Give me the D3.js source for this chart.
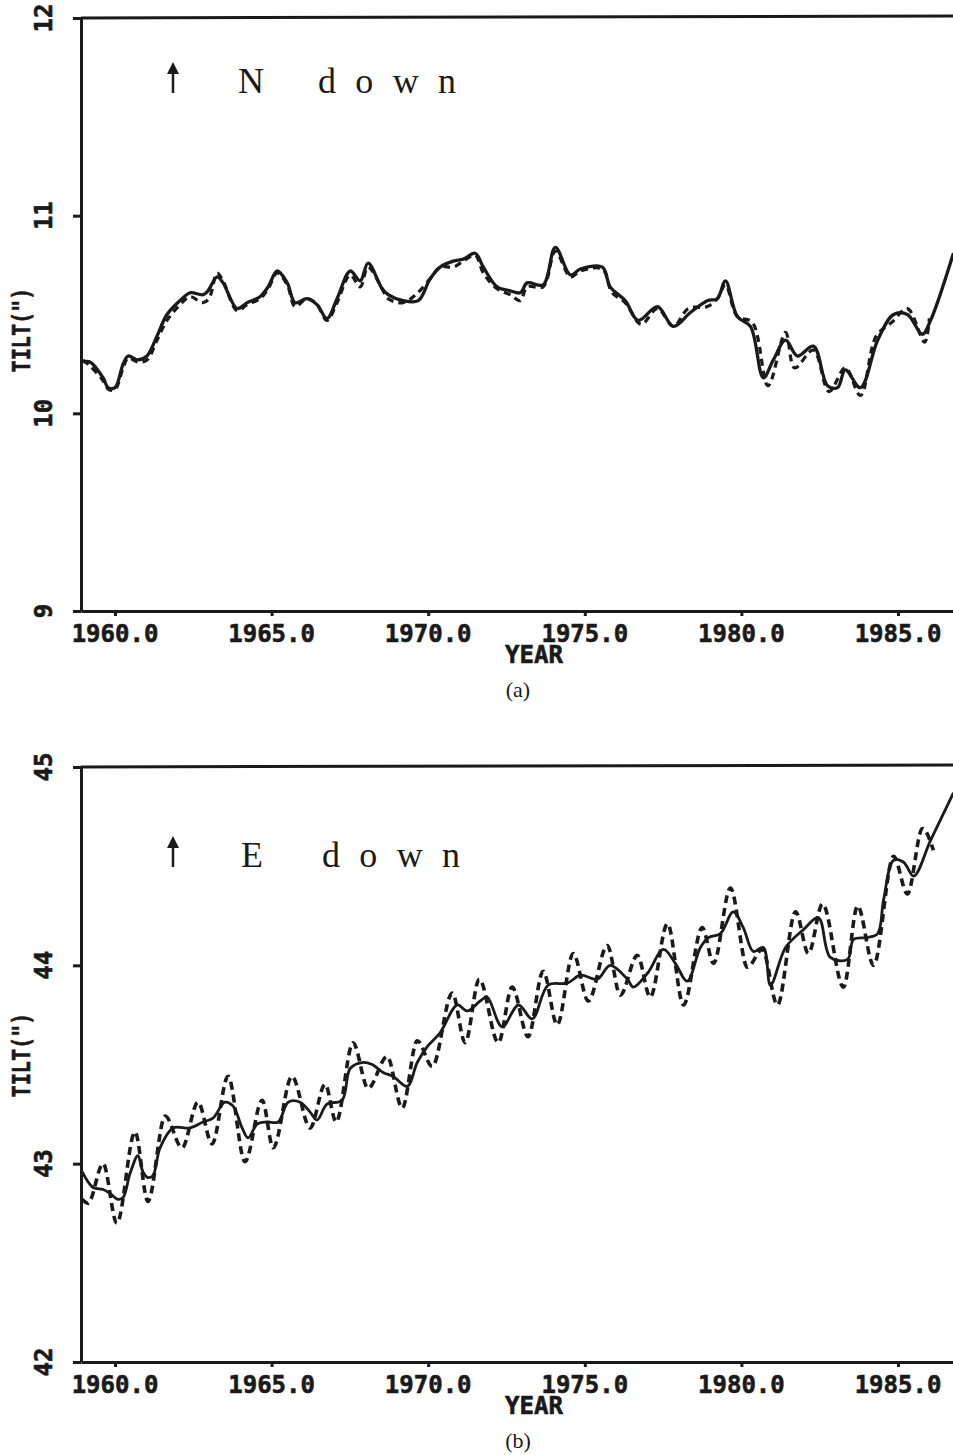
<!DOCTYPE html>
<html>
<head>
<meta charset="utf-8">
<script src="https://cdn.jsdelivr.net/npm/d3@7"></script>
<style>
  body { margin: 0; background: #fff; }
  svg { display: block; }
  .tick-label { font-family: "DejaVu Sans Mono", monospace; font-weight: bold; font-size: 24px; fill: #1a1a1a; stroke: #1a1a1a; stroke-width: 0.6px; }
  .note { font-family: "Liberation Serif", "DejaVu Serif", serif; font-size: 36px; fill: #1a1a1a; }
  .tag { font-family: "Liberation Serif", serif; font-size: 22px; fill: #1a1a1a; }
</style>
</head>
<body>
<div id="chart"></div>
<script>
// tick values
var xTicks = [1960, 1965, 1970, 1975, 1980, 1985];
var yTicksA = [9, 10, 11, 12];
var yTicksB = [42, 43, 44, 45];

// (a) N down: [year, tilt]
var solidA = [
  [1958.98, 10.26], [1959.20, 10.26], [1959.62, 10.18], [1959.78, 10.13], [1960.00, 10.13],
  [1960.26, 10.25], [1960.42, 10.29], [1960.73, 10.27], [1961.02, 10.29], [1961.34, 10.39],
  [1961.66, 10.50], [1962.14, 10.58], [1962.40, 10.61], [1962.81, 10.60], [1962.97, 10.62],
  [1963.26, 10.69], [1963.45, 10.66], [1963.90, 10.53], [1964.22, 10.56], [1964.63, 10.59],
  [1964.89, 10.64], [1965.18, 10.72], [1965.50, 10.66], [1965.75, 10.56], [1966.13, 10.58],
  [1966.45, 10.55], [1966.77, 10.48], [1967.09, 10.58], [1967.51, 10.72], [1967.83, 10.67],
  [1968.08, 10.76], [1968.53, 10.63], [1968.72, 10.60], [1969.20, 10.57], [1969.68, 10.57],
  [1970.06, 10.68], [1970.38, 10.74], [1970.80, 10.77], [1971.12, 10.78], [1971.50, 10.81],
  [1971.76, 10.74], [1972.20, 10.64], [1972.62, 10.62], [1972.94, 10.61], [1973.16, 10.66],
  [1973.67, 10.65], [1974.06, 10.84], [1974.54, 10.70], [1974.86, 10.73], [1975.56, 10.74],
  [1975.81, 10.64], [1976.29, 10.57], [1976.71, 10.47], [1977.32, 10.54], [1977.83, 10.44],
  [1978.37, 10.51], [1978.91, 10.57], [1979.23, 10.58], [1979.49, 10.67], [1979.87, 10.49],
  [1980.29, 10.44], [1980.70, 10.18], [1981.02, 10.27], [1981.41, 10.37], [1981.79, 10.29],
  [1982.30, 10.34], [1982.75, 10.14], [1983.07, 10.13], [1983.32, 10.22], [1983.80, 10.13],
  [1984.35, 10.37], [1984.86, 10.50], [1985.30, 10.50], [1985.78, 10.40], [1986.04, 10.47],
  [1986.77, 10.81]
];
var dashedA = [
  [1958.98, 10.27], [1959.20, 10.24], [1959.60, 10.17], [1959.80, 10.12], [1960.00, 10.12],
  [1960.26, 10.23], [1960.42, 10.28], [1960.73, 10.26], [1961.02, 10.27], [1961.34, 10.37],
  [1961.66, 10.47], [1962.14, 10.56], [1962.40, 10.59], [1962.80, 10.56], [1963.00, 10.58],
  [1963.26, 10.71], [1963.45, 10.67], [1963.90, 10.52], [1964.22, 10.55], [1964.63, 10.58],
  [1964.89, 10.63], [1965.18, 10.71], [1965.50, 10.65], [1965.75, 10.54], [1966.13, 10.58],
  [1966.45, 10.55], [1966.77, 10.47], [1967.09, 10.56], [1967.51, 10.70], [1967.83, 10.64],
  [1968.08, 10.74], [1968.53, 10.63], [1968.72, 10.58], [1969.20, 10.56], [1969.60, 10.60],
  [1970.06, 10.68], [1970.38, 10.74], [1970.80, 10.74], [1971.12, 10.77], [1971.50, 10.80],
  [1971.76, 10.71], [1972.20, 10.63], [1972.62, 10.60], [1972.94, 10.57], [1973.16, 10.64],
  [1973.67, 10.64], [1974.06, 10.82], [1974.54, 10.69], [1974.86, 10.72], [1975.56, 10.73],
  [1975.87, 10.61], [1976.29, 10.56], [1976.80, 10.45], [1977.32, 10.53], [1977.83, 10.44],
  [1978.30, 10.53], [1978.91, 10.54], [1979.23, 10.58], [1979.49, 10.65], [1979.87, 10.49],
  [1980.35, 10.46], [1980.85, 10.14], [1981.41, 10.41], [1981.70, 10.23], [1982.30, 10.32],
  [1982.80, 10.11], [1983.32, 10.23], [1983.80, 10.09], [1984.30, 10.39], [1984.80, 10.46],
  [1985.30, 10.53], [1985.85, 10.36], [1986.00, 10.48]
];

// (b) E down: [year, tilt]
var solidB = [
  [1958.95, 42.96], [1959.30, 42.88], [1959.62, 42.87], [1959.84, 42.85], [1960.10, 42.82],
  [1960.26, 42.83], [1960.48, 42.95], [1960.73, 43.04], [1960.89, 42.96], [1961.05, 42.93],
  [1961.21, 42.94], [1961.44, 43.08], [1961.85, 43.18], [1962.40, 43.18], [1962.81, 43.21],
  [1963.13, 43.23], [1963.51, 43.31], [1963.77, 43.29], [1964.06, 43.18], [1964.25, 43.13],
  [1964.54, 43.20], [1964.86, 43.21], [1965.21, 43.21], [1965.53, 43.31], [1965.91, 43.31],
  [1966.23, 43.26], [1966.45, 43.22], [1966.77, 43.30], [1967.25, 43.32], [1967.51, 43.48],
  [1967.89, 43.51], [1968.21, 43.50], [1968.56, 43.46], [1968.88, 43.44], [1969.33, 43.39],
  [1969.65, 43.51], [1969.97, 43.59], [1970.38, 43.66], [1970.93, 43.80], [1971.25, 43.77],
  [1971.66, 43.82], [1971.88, 43.84], [1972.36, 43.69], [1972.88, 43.80], [1973.32, 43.73],
  [1973.83, 43.90], [1974.44, 43.91], [1974.86, 43.95], [1975.40, 43.93], [1975.81, 44.00],
  [1976.36, 43.93], [1976.55, 43.89], [1977.00, 43.96], [1977.51, 44.08], [1977.89, 44.01],
  [1978.27, 43.92], [1978.69, 44.09], [1978.95, 44.14], [1979.33, 44.16], [1979.74, 44.27],
  [1980.06, 44.19], [1980.38, 44.07], [1980.70, 44.09], [1980.93, 43.90], [1981.41, 44.09],
  [1981.98, 44.18], [1982.46, 44.24], [1982.84, 44.04], [1983.39, 44.03], [1983.58, 44.13],
  [1984.03, 44.14], [1984.35, 44.16], [1984.54, 44.33], [1984.86, 44.53], [1985.18, 44.52],
  [1985.50, 44.45], [1986.04, 44.63], [1986.77, 44.87]
];
var dashedB = [
  [1958.95, 42.82], [1959.14, 42.80], [1959.62, 43.00], [1960.06, 42.70], [1960.64, 43.16],
  [1961.05, 42.81], [1961.60, 43.24], [1962.14, 43.08], [1962.65, 43.31], [1963.10, 43.10],
  [1963.61, 43.44], [1964.15, 43.01], [1964.70, 43.32], [1965.05, 43.08], [1965.65, 43.44],
  [1966.23, 43.18], [1966.71, 43.40], [1967.06, 43.21], [1967.60, 43.61], [1968.08, 43.38],
  [1968.69, 43.54], [1969.17, 43.28], [1969.65, 43.62], [1970.13, 43.49], [1970.77, 43.86],
  [1971.18, 43.61], [1971.63, 43.93], [1972.24, 43.61], [1972.68, 43.89], [1973.19, 43.64],
  [1973.67, 43.97], [1974.12, 43.70], [1974.63, 44.06], [1975.11, 43.82], [1975.72, 44.10],
  [1976.13, 43.85], [1976.68, 44.05], [1977.09, 43.84], [1977.64, 44.21], [1978.15, 43.80],
  [1978.75, 44.19], [1979.11, 44.01], [1979.65, 44.39], [1980.19, 43.99], [1980.67, 44.08],
  [1981.15, 43.80], [1981.73, 44.27], [1982.14, 44.06], [1982.59, 44.31], [1983.26, 43.89],
  [1983.71, 44.30], [1984.22, 44.00], [1984.86, 44.55], [1985.30, 44.36], [1985.78, 44.69],
  [1986.13, 44.58]
];

var W = 953, H = 1455;
var svg = d3.select("#chart").append("svg")
    .attr("width", W)
    .attr("height", H);

var panels = [
  { id: "a", solid: solidA, dashed: dashedA, yTicks: yTicksA, top: 18, bottom: 611,
    letter: "N", noteY: 93, tagY: 697, tiltY: 330, dashedCurve: d3.curveCatmullRom,
    solidW: 3.3, dashedW: 3.2, dash: "7,5" },
  { id: "b", solid: solidB, dashed: dashedB, yTicks: yTicksB, top: 767, bottom: 1362,
    letter: "E", noteY: 867, tagY: 1448, tiltY: 1055, dashedCurve: d3.curveMonotoneX,
    solidW: 2.8, dashedW: 3.6, dash: "8,5" }
];

var left = 81;
// 1960 sits at x=115, 1985 at x=898
var xRef = d3.scaleLinear().domain([1960, 1985]).range([115, 898]);

panels.forEach(function(p) {
  var x = d3.scaleLinear().domain([xRef.invert(left), xRef.invert(W + 5)]).range([left, W + 5]);
  var y = d3.scaleLinear().domain(d3.extent(p.yTicks)).range([p.bottom, p.top]);

  var g = svg.append("g");

  g.append("clipPath").attr("id", "clip-" + p.id)
    .append("rect").attr("x", left).attr("y", p.top - 10)
    .attr("width", W - left).attr("height", p.bottom - p.top + 20);

  var line = d3.line()
      .x(function(d) { return x(d[0]); })
      .y(function(d) { return y(d[1]); });

  g.append("path")
      .datum(p.dashed)
      .attr("clip-path", "url(#clip-" + p.id + ")")
      .attr("fill", "none")
      .attr("stroke", "#1a1a1a")
      .attr("stroke-width", p.dashedW)
      .attr("stroke-dasharray", p.dash)
      .attr("d", line.curve(p.dashedCurve));

  g.append("path")
      .datum(p.solid)
      .attr("clip-path", "url(#clip-" + p.id + ")")
      .attr("fill", "none")
      .attr("stroke", "#1a1a1a")
      .attr("stroke-width", p.solidW)
      .attr("stroke-linejoin", "round")
      .attr("d", line.curve(d3.curveCatmullRom));

  // axes
  var xAxis = g.append("g")
      .attr("transform", "translate(0," + p.bottom + ")")
      .call(d3.axisBottom(x).tickValues(xTicks).tickSize(5).tickSizeOuter(0).tickFormat(""));
  var yAxis = g.append("g")
      .attr("transform", "translate(" + left + ",0)")
      .call(d3.axisLeft(y).tickValues(p.yTicks).tickSize(8).tickSizeOuter(0).tickFormat(""));
  [xAxis, yAxis].forEach(function(a) {
    a.selectAll("path, line").attr("stroke", "#1a1a1a").attr("stroke-width", 3);
  });

  // top frame line
  g.append("line")
      .attr("x1", left).attr("x2", W)
      .attr("y1", y(p.yTicks[p.yTicks.length - 1])).attr("y2", y(p.yTicks[p.yTicks.length - 1]) - 2)
      .attr("stroke", "#1a1a1a").attr("stroke-width", 3);

  // tick labels
  g.selectAll(".xl").data(xTicks).enter().append("text")
      .attr("class", "tick-label")
      .attr("x", function(d) { return x(d); })
      .attr("y", p.bottom + 31)
      .attr("text-anchor", "middle")
      .text(function(d) { return d3.format(".1f")(d); });

  g.selectAll(".yl").data(p.yTicks).enter().append("text")
      .attr("class", "tick-label")
      .attr("transform", function(d) { return "translate(44," + y(d) + ") rotate(-90)"; })
      .attr("text-anchor", "middle")
      .attr("dominant-baseline", "central")
      .text(function(d) { return d; });

  g.append("text")
      .attr("class", "tick-label")
      .attr("x", 534).attr("y", p.bottom + 52)
      .attr("text-anchor", "middle")
      .attr("textLength", 58).attr("lengthAdjust", "spacingAndGlyphs")
      .text("YEAR");

  g.append("text")
      .attr("class", "tick-label")
      .attr("transform", "translate(22," + p.tiltY + ") rotate(-90)")
      .attr("text-anchor", "middle")
      .attr("dominant-baseline", "central")
      .attr("textLength", 85).attr("lengthAdjust", "spacingAndGlyphs")
      .text("TILT(\")");

  g.append("text")
      .attr("class", "tag")
      .attr("x", 518).attr("y", p.tagY)
      .attr("text-anchor", "middle")
      .text("(" + p.id + ")");

  // annotation arrow and text
  var ax = 173, ay1 = p.noteY, ay0 = p.noteY - 31;
  g.append("line")
      .attr("x1", ax).attr("x2", ax).attr("y1", ay1).attr("y2", ay0 + 8)
      .attr("stroke", "#1a1a1a").attr("stroke-width", 2.5);
  g.append("path")
      .attr("d", "M" + ax + "," + ay0 + " L" + (ax - 6) + "," + (ay0 + 12) + " L" + (ax + 6) + "," + (ay0 + 12) + " Z")
      .attr("fill", "#1a1a1a");

  g.append("text")
      .attr("class", "note")
      .attr("x", p.id === "a" ? 238 : 241).attr("y", p.noteY)
      .text(p.letter);

  g.append("text")
      .attr("class", "note")
      .attr("x", p.id === "a" ? 318 : 322).attr("y", p.noteY)
      .attr("textLength", 138).attr("lengthAdjust", "spacing")
      .text("d o w n");
});
</script>
</body>
</html>
